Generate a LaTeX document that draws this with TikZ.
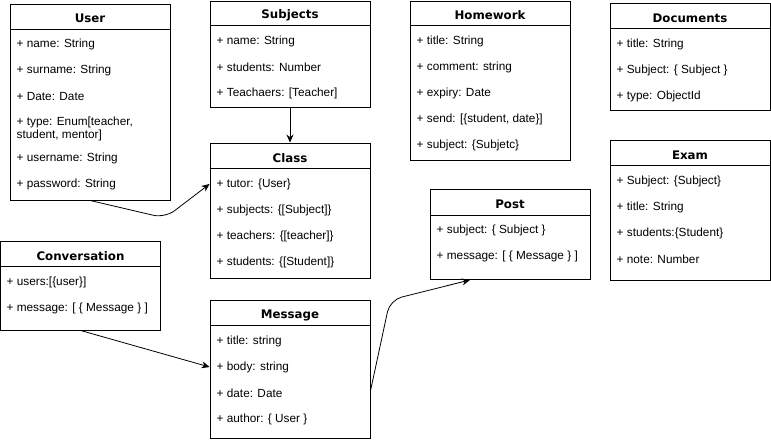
\documentclass[tikz,border=0pt]{standalone}
\usepackage{fontspec}
\setmainfont{Liberation Sans}
\newfontfamily\titlefont{DejaVu Sans}
\usetikzlibrary{arrows.meta}

\tikzset{
  umlbox/.style={draw,line width=0.9pt,minimum width=160pt,inner sep=0pt},
  umltitle/.style={font=\titlefont\bfseries\fontsize{11.8}{14}\selectfont,inner sep=0pt,yshift=-1pt},
  umlrow/.style={anchor=west,inner sep=0pt,font=\fontsize{11.8}{13}\selectfont,align=left,yshift=-1pt},
  conn/.style={line width=0.8pt,-{Stealth[length=8pt,width=7pt]}}
}

\begin{document}
\begin{tikzpicture}[x=1pt,y=-1pt]
  \useasboundingbox (0,0) rectangle (771,440);

  % User
  \node[umlbox,minimum height=196pt] (user) at (90,102) {};
  \draw[line width=0.9pt] (user.north west) ++(0,26) -- ++(160,0);
  \node[umltitle] (user-t) at (90,17) {User};
  \node[umlrow] (user-1) at (16.5,43) {+ name: String};
  \node[umlrow] (user-2) at (16.5,69) {+ surname: String};
  \node[umlrow] (user-3) at (16.5,95) {+ Date: Date};
  \node[umlrow] (user-4) at (16.5,127.5) {+ type: Enum[teacher,\\student, mentor]};
  \node[umlrow] (user-5) at (16.5,157) {+ username: String};
  \node[umlrow] (user-6) at (16.5,183) {+ password: String};

  % Subjects
  \node[umlbox,minimum height=106pt] (subjects) at (290,54) {};
  \draw[line width=0.9pt] (subjects.north west) ++(0,25) -- ++(160,0);
  \node[umltitle] (subjects-t) at (290,14) {Subjects};
  \node[umlrow] (subjects-1) at (216.5,40) {+ name: String};
  \node[umlrow] (subjects-2) at (216.5,66) {+ students: Number};
  \node[umlrow] (subjects-3) at (216.5,92) {+ Teachaers: [Teacher]};

  % Homework
  \node[umlbox,minimum height=159pt] (homework) at (490,80.5) {};
  \draw[line width=0.9pt] (homework.north west) ++(0,25) -- ++(160,0);
  \node[umltitle] (homework-t) at (490,14) {Homework};
  \node[umlrow] (homework-1) at (416.5,40) {+ title: String};
  \node[umlrow] (homework-2) at (416.5,66) {+ comment: string};
  \node[umlrow] (homework-3) at (416.5,92) {+ expiry: Date};
  \node[umlrow] (homework-4) at (416.5,118) {+ send: [\{student, date\}]};
  \node[umlrow] (homework-5) at (416.5,144) {+ subject: \{Subjetc\}};

  % Documents
  \node[umlbox,minimum height=107pt] (documents) at (690,56.5) {};
  \draw[line width=0.9pt] (documents.north west) ++(0,26) -- ++(160,0);
  \node[umltitle] (documents-t) at (690,17) {Documents};
  \node[umlrow] (documents-1) at (616.5,43) {+ title: String};
  \node[umlrow] (documents-2) at (616.5,69) {+ Subject: \{ Subject \}};
  \node[umlrow] (documents-3) at (616.5,95) {+ type: ObjectId};

  % Class
  \node[umlbox,minimum height=135pt] (class) at (290,210.5) {};
  \draw[line width=0.9pt] (class.north west) ++(0,26) -- ++(160,0);
  \node[umltitle] (class-t) at (290,157) {Class};
  \node[umlrow] (class-1) at (216.5,183) {+ tutor: \{User\}};
  \node[umlrow] (class-2) at (216.5,209) {+ subjects: \{[Subject]\}};
  \node[umlrow] (class-3) at (216.5,235) {+ teachers: \{[teacher]\}};
  \node[umlrow] (class-4) at (216.5,261) {+ students: \{[Student]\}};

  % Exam
  \node[umlbox,minimum height=140pt] (exam) at (690,210) {};
  \draw[line width=0.9pt] (exam.north west) ++(0,26) -- ++(160,0);
  \node[umltitle] (exam-t) at (690,154) {Exam};
  \node[umlrow] (exam-1) at (616.5,180) {+ Subject: \{Subject\}};
  \node[umlrow] (exam-2) at (616.5,206) {+ title: String};
  \node[umlrow] (exam-3) at (616.5,232) {+ students:\{Student\}};
  \node[umlrow] (exam-4) at (616.5,258) {+ note: Number};

  % Post
  \node[umlbox,minimum height=90pt] (post) at (510,234.5) {};
  \draw[line width=0.9pt] (post.north west) ++(0,26) -- ++(160,0);
  \node[umltitle] (post-t) at (510,203) {Post};
  \node[umlrow] (post-1) at (436.5,229) {+ subject: \{ Subject \}};
  \node[umlrow] (post-2) at (436.5,255) {+ message: [ \{ Message \} ]};

  % Conversation
  \node[umlbox,minimum height=89pt] (conversation) at (80.5,285.5) {};
  \draw[line width=0.9pt] (conversation.north west) ++(0,26) -- ++(160,0);
  \node[umltitle] (conversation-t) at (80.5,255) {Conversation};
  \node[umlrow] (conversation-1) at (6.5,281) {+ users:[\{user\}]};
  \node[umlrow] (conversation-2) at (6.5,307) {+ message: [ \{ Message \} ]};

  % Message
  \node[umlbox,minimum height=138pt] (message) at (290,369) {};
  \draw[line width=0.9pt] (message.north west) ++(0,26) -- ++(160,0);
  \node[umltitle] (message-t) at (290,314) {Message};
  \node[umlrow] (message-1) at (216.5,340) {+ title: string};
  \node[umlrow] (message-2) at (216.5,366) {+ body: string};
  \node[umlrow] (message-3) at (216.5,392) {+ date: Date};
  \node[umlrow] (message-4) at (216.5,418) {+ author: \{ User \}};

  % links
  \draw[conn] (subjects.south) -- (class.north);
  \draw[conn,rounded corners=12pt] (user.south) -- (165,218) -- (class.west |- class-1);
  \draw[conn] (conversation.south) -- (message.west |- message-2);
  \draw[conn,rounded corners=12pt] ([yshift=2pt]message.east |- message-3) -- (390,300) -- ([xshift=-40pt]post.south);
\end{tikzpicture}
\end{document}
